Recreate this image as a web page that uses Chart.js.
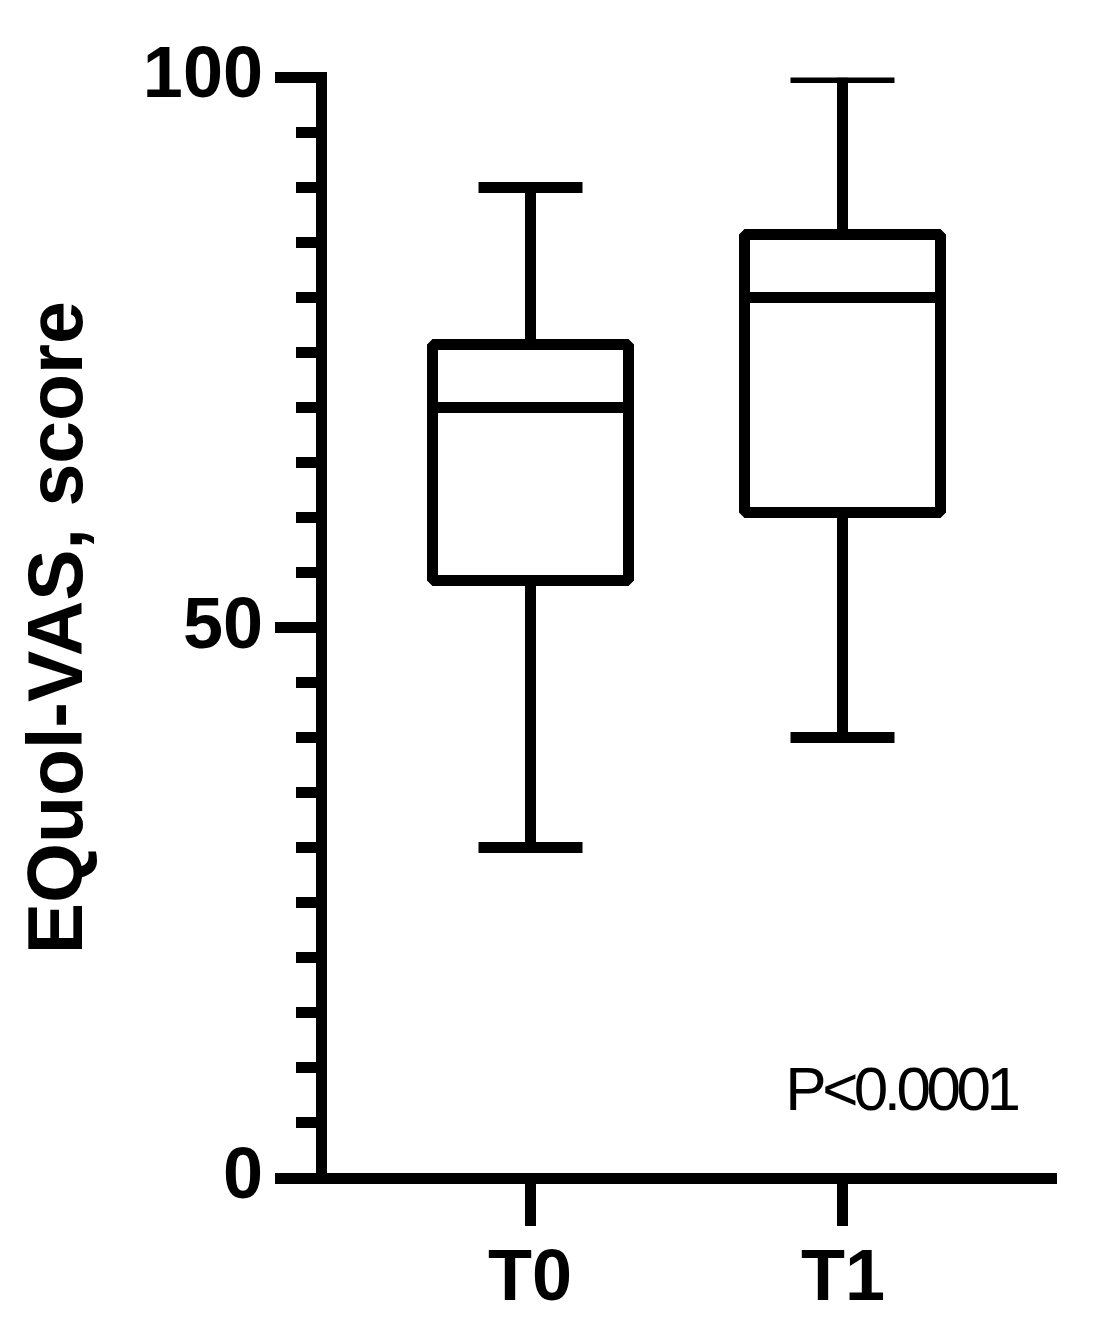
<!DOCTYPE html>
<html>
<head>
<meta charset="utf-8">
<script src="https://cdn.jsdelivr.net/npm/chart.js@4/dist/chart.umd.min.js"></script>
<style>
html,body{margin:0;padding:0;background:#fff}
#wrap{width:1095px;height:1331px;position:relative}
</style>
</head>
<body>
<div id="wrap"><canvas id="c"></canvas></div>
<script>
// ---- data ----
const categories = ['T0', 'T1'];
const whiskerMin = [30, 40];
const quartile1 = [54.25, 60.5];
const medians = [70, 80];
const quartile3 = [75.75, 85.75];
const whiskerMax = [90, 100];
const yMajorTicks = [0, 50, 100];
const yMinorStep = 5;
const yAxisTitle = 'EQuol-VAS, score';
const pValueText = 'P<0.0001';

// ---- styles ----
const FONT = "'Liberation Sans', Arial, Helvetica, sans-serif";
const LW = 11;
const BOX_HALF = 98;
const CAP_HALF = 52;
const MINOR_LEN = 25.5;

function al(p) { return Math.round(p - LW / 2) + LW / 2; }

const boxPlotPlugin = {
  id: 'boxPlot',
  afterDatasetsDraw(chart) {
    const ctx = chart.ctx;
    const y = chart.scales.y;
    const meta = chart.getDatasetMeta(0);
    const area = chart.chartArea;
    ctx.save();
    ctx.beginPath();
    ctx.rect(area.left, area.top, area.right - area.left, area.bottom - area.top);
    ctx.clip();
    ctx.strokeStyle = '#000';
    ctx.lineWidth = LW;
    ctx.lineCap = 'butt';
    categories.forEach((c, i) => {
      const cx = al(meta.data[i].x);
      const pMin = al(y.getPixelForValue(whiskerMin[i]));
      const pQ1 = al(y.getPixelForValue(quartile1[i]));
      const pMed = al(y.getPixelForValue(medians[i]));
      const pQ3 = al(y.getPixelForValue(quartile3[i]));
      const pMax = al(y.getPixelForValue(whiskerMax[i]));
      // whiskers
      ctx.beginPath();
      ctx.moveTo(cx, pQ3); ctx.lineTo(cx, pMax);
      ctx.moveTo(cx, pQ1); ctx.lineTo(cx, pMin);
      ctx.stroke();
      // caps
      ctx.beginPath();
      ctx.moveTo(cx - CAP_HALF, pMax); ctx.lineTo(cx + CAP_HALF, pMax);
      ctx.moveTo(cx - CAP_HALF, pMin); ctx.lineTo(cx + CAP_HALF, pMin);
      ctx.stroke();
      // box
      ctx.fillStyle = '#fff';
      ctx.fillRect(cx - BOX_HALF, pQ3, 2 * BOX_HALF, pQ1 - pQ3);
      ctx.lineJoin = 'bevel';
      ctx.strokeRect(cx - BOX_HALF, pQ3, 2 * BOX_HALF, pQ1 - pQ3);
      // median
      ctx.beginPath();
      ctx.moveTo(cx - BOX_HALF, pMed); ctx.lineTo(cx + BOX_HALF, pMed);
      ctx.stroke();
    });
    ctx.restore();
  },
  afterDraw(chart) {
    const ctx = chart.ctx;
    const y = chart.scales.y;
    const area = chart.chartArea;
    ctx.save();
    // minor ticks of the y axis
    ctx.strokeStyle = '#000';
    ctx.lineWidth = LW;
    ctx.lineCap = 'butt';
    ctx.beginPath();
    y.ticks.forEach(t => {
      if (yMajorTicks.includes(t.value)) return;
      const py = al(y.getPixelForValue(t.value));
      ctx.moveTo(y.right - MINOR_LEN, py);
      ctx.lineTo(y.right - LW / 2, py);
    });
    ctx.stroke();
    // p-value annotation
    ctx.fillStyle = '#000';
    ctx.font = '62px ' + FONT;
    try { ctx.letterSpacing = '-4.5px'; } catch (e) {}
    ctx.textAlign = 'right';
    ctx.textBaseline = 'alphabetic';
    ctx.fillText(pValueText, area.right - 35, area.bottom - 68);
    ctx.restore();
  }
};

new Chart(document.getElementById('c'), {
  type: 'scatter',
  data: {
    datasets: [{
      label: 'EQuol-VAS',
      data: categories.map((c, i) => ({ x: i + 1, y: medians[i] })),
      pointRadius: 0,
      pointHoverRadius: 0,
      showLine: false
    }]
  },
  options: {
    responsive: true,
    maintainAspectRatio: false,
    animation: false,
    events: [],
    layout: { padding: { left: 0, top: 77.5, right: 43.5, bottom: 0 } },
    plugins: { legend: { display: false }, tooltip: { enabled: false } },
    scales: {
      x: {
        type: 'linear',
        min: 1 / 3,
        max: 8 / 3,
        afterBuildTicks: s => { s.ticks = categories.map((c, i) => ({ value: i + 1 })); },
        afterFit: s => { s.height = 153; },
        ticks: {
          autoSkip: false,
          maxRotation: 0,
          padding: 11,
          color: '#000',
          font: { family: FONT, size: 72, weight: 'bold' },
          callback: v => categories[Math.round(v) - 1] ?? ''
        },
        grid: { drawOnChartArea: false, drawTicks: true, tickLength: 48, tickWidth: LW, tickColor: '#000', lineWidth: LW, color: '#000' },
        border: { display: true, width: LW, color: '#000' }
      },
      y: {
        min: 0,
        max: 100,
        afterFit: s => { s.width = 321.5; },
        ticks: {
          stepSize: yMinorStep,
          autoSkip: false,
          padding: 12,
          color: '#000',
          font: { family: FONT, size: 72, weight: 'bold' },
          callback: v => yMajorTicks.includes(v) ? String(v) : ''
        },
        grid: {
          drawOnChartArea: false, drawTicks: true, tickLength: 46.5, tickWidth: LW, lineWidth: LW, color: '#000',
          tickColor: c => (c.tick && yMajorTicks.includes(c.tick.value)) ? '#000' : 'rgba(0,0,0,0)'
        },
        border: { display: true, width: LW, color: '#000' },
        title: {
          display: true,
          text: yAxisTitle,
          color: '#000',
          font: { family: FONT, size: 77, weight: 'bold' },
          padding: { top: 15, bottom: 0 }
        }
      }
    }
  },
  plugins: [boxPlotPlugin]
});
</script>
</body>
</html>
